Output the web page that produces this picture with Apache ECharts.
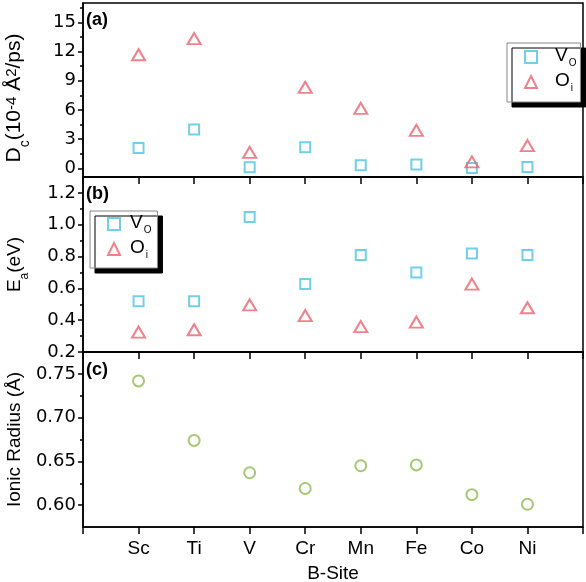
<!DOCTYPE html>
<html><head><meta charset="utf-8">
<script src="https://cdn.jsdelivr.net/npm/echarts@6/dist/echarts.min.js"></script>
<style>html,body{margin:0;padding:0;background:#fff}#c{width:586px;height:582px}</style>
</head><body><div id="c"></div>
<script>
// ---- data ----
const categories = ['Sc', 'Ti', 'V', 'Cr', 'Mn', 'Fe', 'Co', 'Ni'];
const dcVo = [2.09, 3.98, 0.10, 2.16, 0.30, 0.38, 0.03, 0.13];
const dcOi = [11.68, 13.33, 1.64, 8.32, 6.16, 3.90, 0.65, 2.33];
const eaVo = [0.519, 0.519, 1.048, 0.627, 0.809, 0.700, 0.819, 0.809];
const eaOi = [0.325, 0.340, 0.496, 0.429, 0.360, 0.388, 0.627, 0.478];
const radius = [0.742, 0.674, 0.637, 0.619, 0.645, 0.646, 0.612, 0.601];
const dcTicks = [0, 3, 6, 9, 12, 15];
const dcMinor = [1.5, 4.5, 7.5, 10.5, 13.5, 16.5];
const eaTicks = [0.2, 0.4, 0.6, 0.8, 1.0, 1.2];
const eaMinor = [0.3, 0.5, 0.7, 0.9, 1.1];
const radTicks = [0.60, 0.65, 0.70, 0.75];
const radMinor = [0.625, 0.675, 0.725];

const CY = '#4EC4DF', RD = '#E8626F', GR = '#8DBA55';
const FONT = 'Liberation Sans';
const TICKFONT = 'DejaVu Sans';
const pts = arr => arr.map((v, i) => [i + 1, v]);

const titleRich = {
  m: { fontSize: 19, lineHeight: 22, verticalAlign: 'top', fontFamily: FONT, color: '#000' },
  s: { fontSize: 12, lineHeight: 12, padding: [14, 0, 0, 0], verticalAlign: 'top', fontFamily: FONT, color: '#000' }
};
const dcRich = {
  m: { fontSize: 21, lineHeight: 24, verticalAlign: 'top', fontFamily: FONT, color: '#000' },
  s: { fontSize: 14, lineHeight: 14, padding: [14, 0, 0, 0], verticalAlign: 'top', fontFamily: FONT, color: '#000' },
  p: { fontSize: 15, lineHeight: 15, verticalAlign: 'top', fontFamily: FONT, color: '#000' }
};
const legRich = {
  m: { fontSize: 19, lineHeight: 22, verticalAlign: 'top', fontFamily: FONT, color: '#000' },
  s: { fontSize: 10, lineHeight: 10, padding: [12, 0, 0, 1], verticalAlign: 'top', fontFamily: FONT, color: '#000' }
};
const grids = [
  { left: 83, top: 3, width: 500, height: 174 },
  { left: 83, top: 177, width: 500, height: 175 },
  { left: 83, top: 352, width: 500, height: 175 }
].map(g => Object.assign(g, { show: true, borderColor: '#000', borderWidth: 1.5, backgroundColor: 'transparent', containLabel: false, outerBoundsMode: 'none' }));

const lineStyle = { color: '#000', width: 1.5 };
const xAxes = [0, 1, 2].map(g => ({
  gridIndex: g, type: 'value', min: 0, max: 9, interval: 1,
  axisLine: { show: true, onZero: false, lineStyle },
  axisTick: { show: true, inside: false, length: 7, lineStyle },
  axisLabel: { show: g === 2, margin: 12, fontSize: 19, fontFamily: FONT, color: '#000',
    formatter: v => categories[v - 1] || '' },
  splitLine: { show: false },
  name: g === 2 ? 'B-Site' : '', nameLocation: 'middle', nameGap: 37,
  nameTextStyle: { fontSize: 19, fontFamily: FONT, color: '#000' }
}));

function mainY(g, min, max, ticks, dec, name, gap, pad, rich) {
  return {
    gridIndex: g, type: 'value', min, max, position: 'left',
    axisLine: { show: true, onZero: false, lineStyle },
    axisTick: { show: true, inside: false, length: 5, lineStyle, customValues: ticks },
    axisLabel: { customValues: ticks, margin: 7, fontSize: 18, fontFamily: TICKFONT, color: '#000',
      formatter: v => v.toFixed(dec) },
    splitLine: { show: false },
    name, nameLocation: 'middle', nameRotate: 90, nameGap: gap,
    nameTextStyle: { rich, padding: pad }
  };
}
function minorY(g, min, max, ticks) {
  return {
    gridIndex: g, type: 'value', min, max, position: 'left', offset: 0,
    axisLine: { show: false, onZero: false },
    axisTick: { show: true, inside: false, length: 3, lineStyle, customValues: ticks },
    axisLabel: { show: false },
    splitLine: { show: false }
  };
}
const yAxes = [
  mainY(0, -0.9, 17, dcTicks, 0, '{m|D}{s|c}{m|(10}{p|-4}{m| Å}{p|2}{m|/ps)}', 55, [0, 16, 0, 0], dcRich),
  mainY(1, 0.2, 1.3, eaTicks, 1, '{m|E}{s|a}{m|(eV)}', 56, [0, 0, 0, 0], titleRich),
  mainY(2, 0.575, 0.775, radTicks, 2, '{m|Ionic Radius (Å)}', 56, [0, 0, 0, 0], titleRich),
  minorY(0, -0.9, 17, dcMinor),
  minorY(1, 0.2, 1.3, eaMinor),
  minorY(2, 0.575, 0.775, radMinor)
];

const sqStyle = { color: 'rgba(255,255,255,0)', borderColor: CY, borderWidth: 2 };
const trStyle = { color: 'rgba(255,255,255,0)', borderColor: RD, borderWidth: 2 };
const ciStyle = { color: 'rgba(255,255,255,0)', borderColor: GR, borderWidth: 2 };

const legFmt = n => n === 'VO' ? '{m|V}{s|O}' : '{m|O}{s|i}';
const legData = [
  { name: 'VO', icon: 'rect', itemStyle: sqStyle },
  { name: 'Oi', icon: 'triangle', itemStyle: trStyle }
];
function legend(left, top, pad, textPad) {
  return {
    orient: 'vertical', left, top, padding: pad, itemGap: 3,
    itemWidth: 12, itemHeight: 12, selectedMode: false,
    backgroundColor: '#fff', borderColor: '#888', borderWidth: 1,
    shadowColor: '#000', shadowBlur: 0, shadowOffsetX: 5, shadowOffsetY: 5,
    data: legData, formatter: legFmt,
    textStyle: { padding: [0, 0, 0, textPad], rich: legRich }
  };
}

const option = {
  animation: false,
  backgroundColor: '#fff',
  title: [
    { text: '(a)', left: 86, top: 11, padding: 0, textStyle: { fontSize: 18, fontWeight: 'bold', fontFamily: FONT, color: '#000' } },
    { text: '(b)', left: 86, top: 185, padding: 0, textStyle: { fontSize: 18, fontWeight: 'bold', fontFamily: FONT, color: '#000' } },
    { text: '(c)', left: 86, top: 361, padding: 0, textStyle: { fontSize: 18, fontWeight: 'bold', fontFamily: FONT, color: '#000' } }
  ],
  legend: [
    legend(507, 43, [3, 4, 9, 17], 13),
    legend(90, 211, [2, 6, 8, 17], 5)
  ],
  grid: grids,
  xAxis: xAxes,
  yAxis: yAxes,
  series: [
    { type: 'scatter', name: 'VO', xAxisIndex: 0, yAxisIndex: 0, symbol: 'rect', symbolSize: 10, itemStyle: sqStyle, data: pts(dcVo) },
    { type: 'scatter', name: 'Oi', xAxisIndex: 0, yAxisIndex: 0, symbol: 'triangle', symbolSize: [13, 11], itemStyle: trStyle, data: pts(dcOi) },
    { type: 'scatter', name: 'VO', xAxisIndex: 1, yAxisIndex: 1, symbol: 'rect', symbolSize: 10, itemStyle: sqStyle, data: pts(eaVo) },
    { type: 'scatter', name: 'Oi', xAxisIndex: 1, yAxisIndex: 1, symbol: 'triangle', symbolSize: [13, 11], itemStyle: trStyle, data: pts(eaOi) },
    { type: 'scatter', name: 'Radius', xAxisIndex: 2, yAxisIndex: 2, symbol: 'circle', symbolSize: 11, itemStyle: ciStyle, data: pts(radius) }
  ]
};
const chart = echarts.init(document.getElementById('c'), null, { renderer: 'canvas' });
chart.setOption(option);
</script>
</body></html>
